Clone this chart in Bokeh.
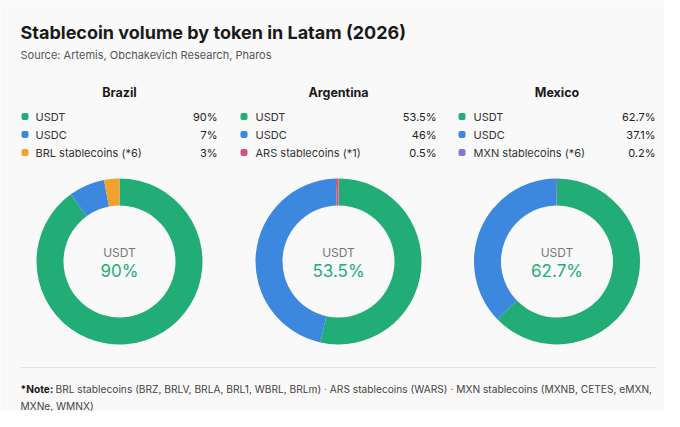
from bokeh.plotting import figure
from bokeh.models import Range1d, ColumnDataSource
from bokeh.core.properties import value
from bokeh.embed import file_html
from bokeh.resources import INLINE
import numpy as np

# ---------------- data ----------------
title = "Stablecoin volume by token in Latam (2026)"
subtitle = "Source: Artemis, Obchakevich Research, Pharos"
countries = ["Brazil", "Argentina", "Mexico"]
tokens_brazil = ["USDT", "USDC", "BRL stablecoins (*6)"]
tokens_argentina = ["USDT", "USDC", "ARS stablecoins (*1)"]
tokens_mexico = ["USDT", "USDC", "MXN stablecoins (*6)"]
share_brazil = [90.0, 7.0, 3.0]
share_argentina = [53.5, 46.0, 0.5]
share_mexico = [62.7, 37.1, 0.2]
labels_brazil = ["90%", "7%", "3%"]
labels_argentina = ["53.5%", "46%", "0.5%"]
labels_mexico = ["62.7%", "37.1%", "0.2%"]
colors_brazil = ["#22ad76", "#3b88de", "#f2a12e"]
colors_argentina = ["#22ad76", "#3b88de", "#d6527b"]
colors_mexico = ["#22ad76", "#3b88de", "#8b72d9"]
note_bold = "*Note:"
note_line1 = "BRL stablecoins (BRZ, BRLV, BRLA, BRL1, WBRL, BRLm)  ·  ARS stablecoins (WARS)  ·  MXN stablecoins (MXNB, CETES, eMXN,"
note_line2 = "MXNe, WMNX)"

tokens = [tokens_brazil, tokens_argentina, tokens_mexico]
shares = [share_brazil, share_argentina, share_mexico]
labels = [labels_brazil, labels_argentina, labels_mexico]
colors = [colors_brazil, colors_argentina, colors_mexico]

# ---------------- layout ----------------
W, H = 664, 411
BG = "#f9f9f9"
FONT = value("Inter")


def Y(y):  # pixel from top -> data y
    return H - y


p = figure(width=W, height=H, x_range=Range1d(0, W), y_range=Range1d(0, H),
           output_backend="svg", toolbar_location=None, min_border=0)
p.background_fill_color = BG
p.border_fill_color = BG
p.outline_line_color = None
p.axis.visible = False
p.grid.visible = False

# title + subtitle
p.text(x=[20], y=[Y(32)], text=[title], text_font=FONT, text_font_size="18px",
       text_font_style="bold", text_color="#1a1a1a", text_baseline="middle", text_align="left")
p.text(x=[20], y=[Y(54)], text=[subtitle], text_font=FONT, text_font_size="11px",
       text_color="#555555", text_baseline="middle", text_align="left")

centers_x = [119, 338, 556.5]
legend_sq_x = [24.5, 243.5, 461.5]
legend_lbl_x = [35, 255, 473]
legend_val_x = [217, 436, 655]
row_y = [116, 134, 152]
cy = 261
r_out, r_in = 83, 56

for i, c in enumerate(countries):
    cxp = centers_x[i]
    p.text(x=[cxp], y=[Y(92)], text=[c], text_font=FONT, text_font_size="12.5px",
           text_font_style="bold", text_color="#1a1a1a", text_baseline="middle", text_align="center")

    # legend
    src = ColumnDataSource(dict(
        sx=[legend_sq_x[i]] * 3, lx=[legend_lbl_x[i]] * 3, vx=[legend_val_x[i]] * 3,
        y=[Y(v) for v in row_y], tok=tokens[i], lab=labels[i], col=colors[i]))
    p.rect(x="sx", y="y", width=7, height=7, fill_color="col", line_color=None,
           border_radius=2, source=src)
    p.text(x="lx", y="y", text="tok", text_font=FONT, text_font_size="11px",
           text_color="#333333", text_baseline="middle", text_align="left", source=src)
    p.text(x="vx", y="y", text="lab", text_font=FONT, text_font_size="11px",
           text_color="#222222", text_baseline="middle", text_align="right", source=src)

    # donut
    vals = np.array(shares[i], dtype=float)
    frac = vals / vals.sum()
    cum = np.concatenate([[0], np.cumsum(frac)])
    start = np.pi / 2 - 2 * np.pi * cum[:-1]
    end = np.pi / 2 - 2 * np.pi * cum[1:]
    wsrc = ColumnDataSource(dict(x=[cxp] * 3, y=[Y(cy)] * 3, start=list(start),
                                 end=list(end), col=colors[i]))
    p.annular_wedge(x="x", y="y", inner_radius=r_in, outer_radius=r_out,
                    start_angle="start", end_angle="end", direction="clock",
                    fill_color="col", line_color=None, source=wsrc)

    # center labels
    p.text(x=[cxp], y=[Y(252)], text=[tokens[i][0]], text_font=FONT, text_font_size="12px",
           text_color="#777777", text_baseline="middle", text_align="center")
    p.text(x=[cxp], y=[Y(270)], text=[labels[i][0]], text_font=FONT, text_font_size="17px",
           text_color=colors[i][0], text_baseline="middle", text_align="center")

# separator + note
p.segment(x0=[20], y0=[Y(367)], x1=[656], y1=[Y(367)], line_color="#e2e2e2", line_width=1)
p.text(x=[20], y=[Y(388)], text=[note_bold], text_font=FONT, text_font_size="10.2px",
       text_font_style="bold", text_color="#1a1a1a", text_baseline="middle", text_align="left")
p.text(x=[55], y=[Y(388)], text=[note_line1], text_font=FONT, text_font_size="10.2px",
       text_color="#444444", text_baseline="middle", text_align="left")
p.text(x=[20], y=[Y(405)], text=[note_line2], text_font=FONT, text_font_size="10.2px",
       text_color="#444444", text_baseline="middle", text_align="left")

open("out.html", "w").write(file_html(p, INLINE))
